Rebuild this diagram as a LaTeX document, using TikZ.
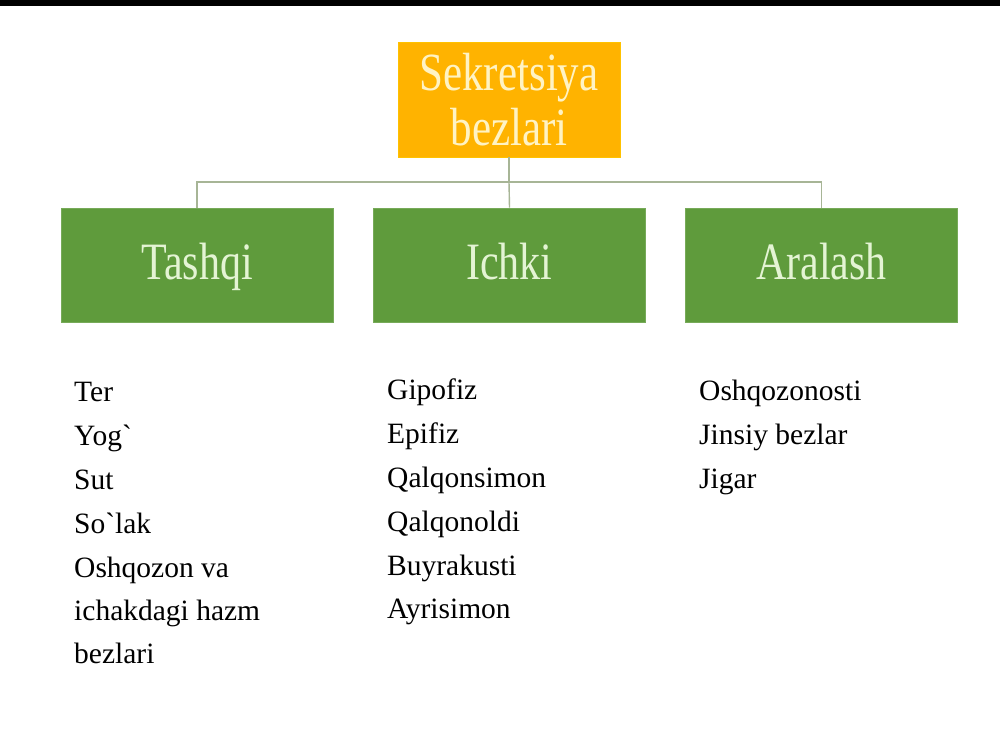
\documentclass[tikz,border=0pt]{standalone}
\usepackage{fontspec}
\setmainfont{Liberation Serif}[Ligatures=TeXOff]
\usepackage{graphicx}
\definecolor{orbox}{HTML}{FFB300}
\definecolor{ortext}{HTML}{FFF3C4}
\definecolor{grbox}{HTML}{5F9B3C}
\definecolor{grtext}{HTML}{E4F4D4}
\definecolor{connc}{HTML}{A7B596}
\tikzset{
  topbox/.style={fill=orbox, draw=orbox!80!yellow, line width=0.8pt, minimum width=222pt, minimum height=115pt, inner sep=0pt, text=ortext, align=center, font=\fontsize{43}{55}\selectfont},
  catbox/.style={fill=grbox, draw=grbox!85!white, line width=0.8pt, minimum width=272pt, minimum height=114pt, inner sep=0pt, text=grtext, font=\fontsize{42}{50}\selectfont, text height=36pt, text depth=8pt},
  conn/.style={draw=connc, line width=1.4pt},
  item/.style={anchor=base west, inner sep=0pt, font=\fontsize{29.5}{44}\selectfont, text=black}
}
\newcommand{\tall}[1]{\scalebox{1}[1.25]{#1}}
\begin{document}
\begin{tikzpicture}[x=1pt,y=-1pt]
\useasboundingbox (0,0) rectangle (1000,750);
\fill[white] (0,0) rectangle (1000,750);
\fill[black] (0,0) rectangle (1000,6);

\node[topbox] (top) at (509,99.5) {\tall{Sekretsiya}\\\tall{bezlari}};
\node[catbox] (tashqi) at (197,265) {\tall{Tashqi}};
\node[catbox] (ichki) at (509.5,265) {\tall{Ichki}};
\node[catbox] (aralash) at (821.5,265) {\tall{Aralash}};

\coordinate (hub) at (509,182);
\draw[conn] (top.south) -- (hub);
\draw[conn] (hub) -| (tashqi.north);
\draw[conn] (hub) -- (ichki.north);
\draw[conn] (hub) -| (aralash.north);

\node[item] (a1) at (74,401) {Ter};
\node[item] (a2) at (74,445) {Yog`};
\node[item] (a3) at (74,489) {Sut};
\node[item] (a4) at (74,533) {So`lak};
\node[item] (a5) at (74,577) {Oshqozon va};
\node[item] (a6) at (74,620) {ichakdagi hazm};
\node[item] (a7) at (74,663) {bezlari};

\node[item] (b1) at (387,399) {Gipofiz};
\node[item] (b2) at (387,443) {Epifiz};
\node[item] (b3) at (387,487) {Qalqonsimon};
\node[item] (b4) at (387,531) {Qalqonoldi};
\node[item] (b5) at (387,575) {Buyrakusti};
\node[item] (b6) at (387,618) {Ayrisimon};

\node[item] (c1) at (699,400) {Oshqozonosti};
\node[item] (c2) at (699,444) {Jinsiy bezlar};
\node[item] (c3) at (699,488) {Jigar};
\end{tikzpicture}
\end{document}
